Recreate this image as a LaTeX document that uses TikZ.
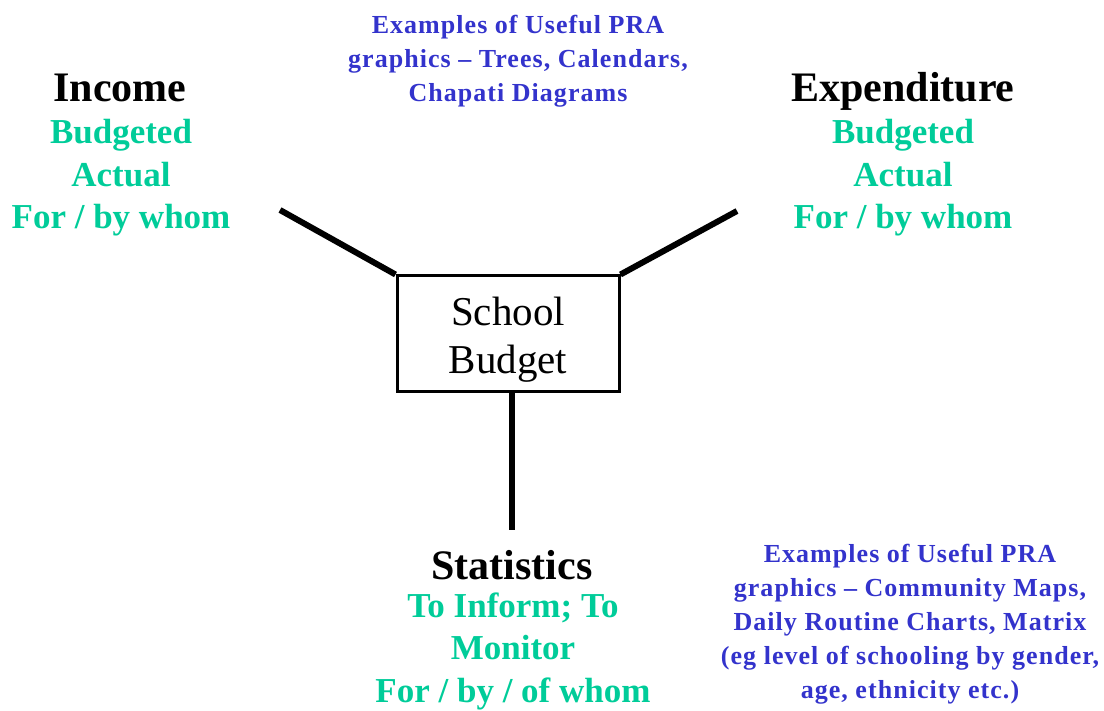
\documentclass[tikz,border=0pt]{standalone}
\usepackage{fontspec}
\setmainfont{Liberation Serif}
\newfontfamily\bluefont[LetterSpace=4]{Liberation Serif}
\definecolor{lgreen}{RGB}{0,204,153}
\definecolor{lblue}{RGB}{51,51,204}
\begin{document}
\begin{tikzpicture}[x=1pt,y=-1pt,
  head/.style={font=\fontsize{42}{46}\selectfont\bfseries, text=black, inner sep=0pt, anchor=base},
  green/.style={font=\fontsize{35}{42.5}\selectfont\bfseries, text=lgreen, align=center, inner sep=0pt},
  blue/.style={font=\bluefont\fontsize{26}{34}\selectfont\bfseries, text=lblue, align=center, inner sep=0pt},
  leg/.style={line width=6pt}]
\useasboundingbox (0,0) rectangle (1104,711);
\node[draw, line width=3pt, minimum width=222pt, minimum height=116pt, inner sep=0pt] (sb) at (508,334) {};
\node[align=center, font=\fontsize{41}{48}\selectfont, inner sep=0pt] (sbt) at (508,340) {School\\Budget};
\coordinate (lend) at (280,210);
\coordinate (rend) at (737,211);
\coordinate (bend) at (512,530);
\draw[leg] (lend) -- (sb.north west);
\draw[leg] (rend) -- (sb.north east);
\draw[leg] (sb.south -| bend) -- (bend);
\node[head] (inc) at (120,102) {Income};
\node[green] (incg) at (121,178) {Budgeted\\Actual\\For / by whom};
\node[head] (exp) at (903,102) {Expenditure};
\node[green] (expg) at (903,178) {Budgeted\\Actual\\For / by whom};
\node[head] (stat) at (512,579) {Statistics};
\node[green] (statg) at (513,651) {To Inform; To\\Monitor\\For / by / of whom};
\node[blue] (top) at (518,61) {Examples of Useful PRA\\graphics \textendash{} Trees, Calendars,\\Chapati Diagrams};
\node[blue] (br) at (910,624) {Examples of Useful PRA\\graphics \textendash{} Community Maps,\\Daily Routine Charts, Matrix\\(eg level of schooling by gender,\\age, ethnicity etc.)};
\end{tikzpicture}
\end{document}
